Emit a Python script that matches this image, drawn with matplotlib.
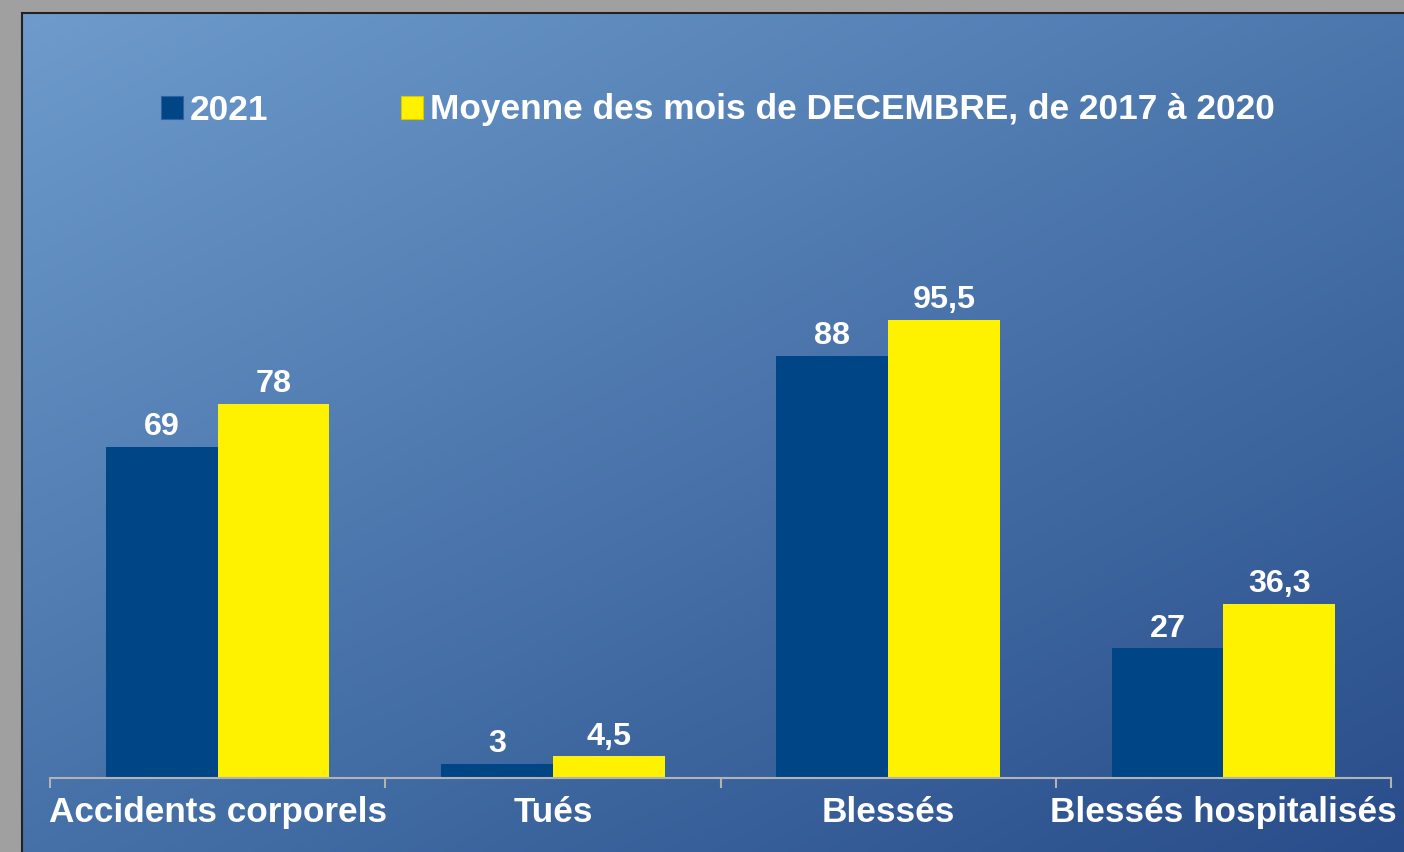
import numpy as np
import matplotlib
matplotlib.use("Agg")
import matplotlib.pyplot as plt
from matplotlib.patches import Patch

# ---- data ----
categories = ["Accidents corporels", "Tués", "Blessés", "Blessés hospitalisés"]
values_2021 = [69, 3, 88, 27]
values_avg = [78, 4.5, 95.5, 36.3]
labels_2021 = ["69", "3", "88", "27"]
labels_avg = ["78", "4,5", "95,5", "36,3"]
series_names = ["2021", "Moyenne des mois de DECEMBRE, de 2017 à 2020"]

plt.rcParams['font.family'] = ['Liberation Sans', 'DejaVu Sans']

W, H = 1404, 852
fig = plt.figure(figsize=(W / 100, H / 100), dpi=100)
fig.patch.set_facecolor("#A0A0A0")

# background panel with diagonal gradient
bg = fig.add_axes([22 / W, 0, 1 - 22 / W, (H - 13) / H])
tl = np.array([0x6E, 0x9B, 0xCC]) / 255
tr = np.array([0x4B, 0x77, 0xAD]) / 255
bl = np.array([0x45, 0x71, 0xA8]) / 255
br = np.array([0x29, 0x4D, 0x8A]) / 255
u = np.linspace(0, 1, 300)[None, :, None]
v = np.linspace(0, 1, 200)[:, None, None]
img = (1 - u) * (1 - v) * tl + u * (1 - v) * tr + (1 - u) * v * bl + u * v * br
bg.imshow(img, aspect="auto", extent=[0, 1, 0, 1], interpolation="bilinear")
bg.set_xticks([])
bg.set_yticks([])
for s in bg.spines.values():
    s.set_color("#222222")
    s.set_linewidth(1.5)
bg.spines["right"].set_visible(False)
bg.spines["bottom"].set_visible(False)

# main axes
ax = fig.add_axes([50 / W, 74 / H, 1341 / W, 480 / H])
ax.patch.set_alpha(0)
x = np.arange(len(categories))
w = 0.333
b1 = ax.bar(x - w / 2, values_2021, w, color="#004586", label=series_names[0])
b2 = ax.bar(x + w / 2, values_avg, w, color="#FFF200", label=series_names[1])
ax.set_xlim(-0.5, len(categories) - 0.5)
ax.set_ylim(0, 100)

ax.bar_label(b1, labels=labels_2021, padding=3.5, color="white",
             fontsize=23.3, fontweight="bold", clip_on=False)
ax.bar_label(b2, labels=labels_avg, padding=3.5, color="white",
             fontsize=23.3, fontweight="bold", clip_on=False)

for side in ["top", "right", "left"]:
    ax.spines[side].set_visible(False)
ax.spines["bottom"].set_color("#B3B3B3")
ax.spines["bottom"].set_linewidth(1.5)
ax.set_yticks([])
ax.set_xticks(x)
ax.set_xticklabels(categories, fontsize=25.3, fontweight="bold", color="white")
ax.tick_params(axis="x", which="major", length=0, pad=13)
ax.set_xticks(np.arange(len(categories) + 1) - 0.5, minor=True)
ax.tick_params(axis="x", which="minor", length=7, width=1.5, color="#B3B3B3")

handles = [Patch(facecolor="#004586", edgecolor="#3060A0", linewidth=0.8),
           Patch(facecolor="#FFF200", edgecolor="#D8C800", linewidth=0.8)]
leg = fig.legend(handles, series_names, loc="center", bbox_to_anchor=(718 / W, 1 - 110 / H),
                 ncol=2, frameon=False, fontsize=25.4, handlelength=0.63, handleheight=0.63,
                 handletextpad=0.2, columnspacing=3.75)
for t in leg.get_texts():
    t.set_color("white")
    t.set_fontweight("bold")

fig.savefig("out.png", dpi=100, facecolor=fig.get_facecolor())
